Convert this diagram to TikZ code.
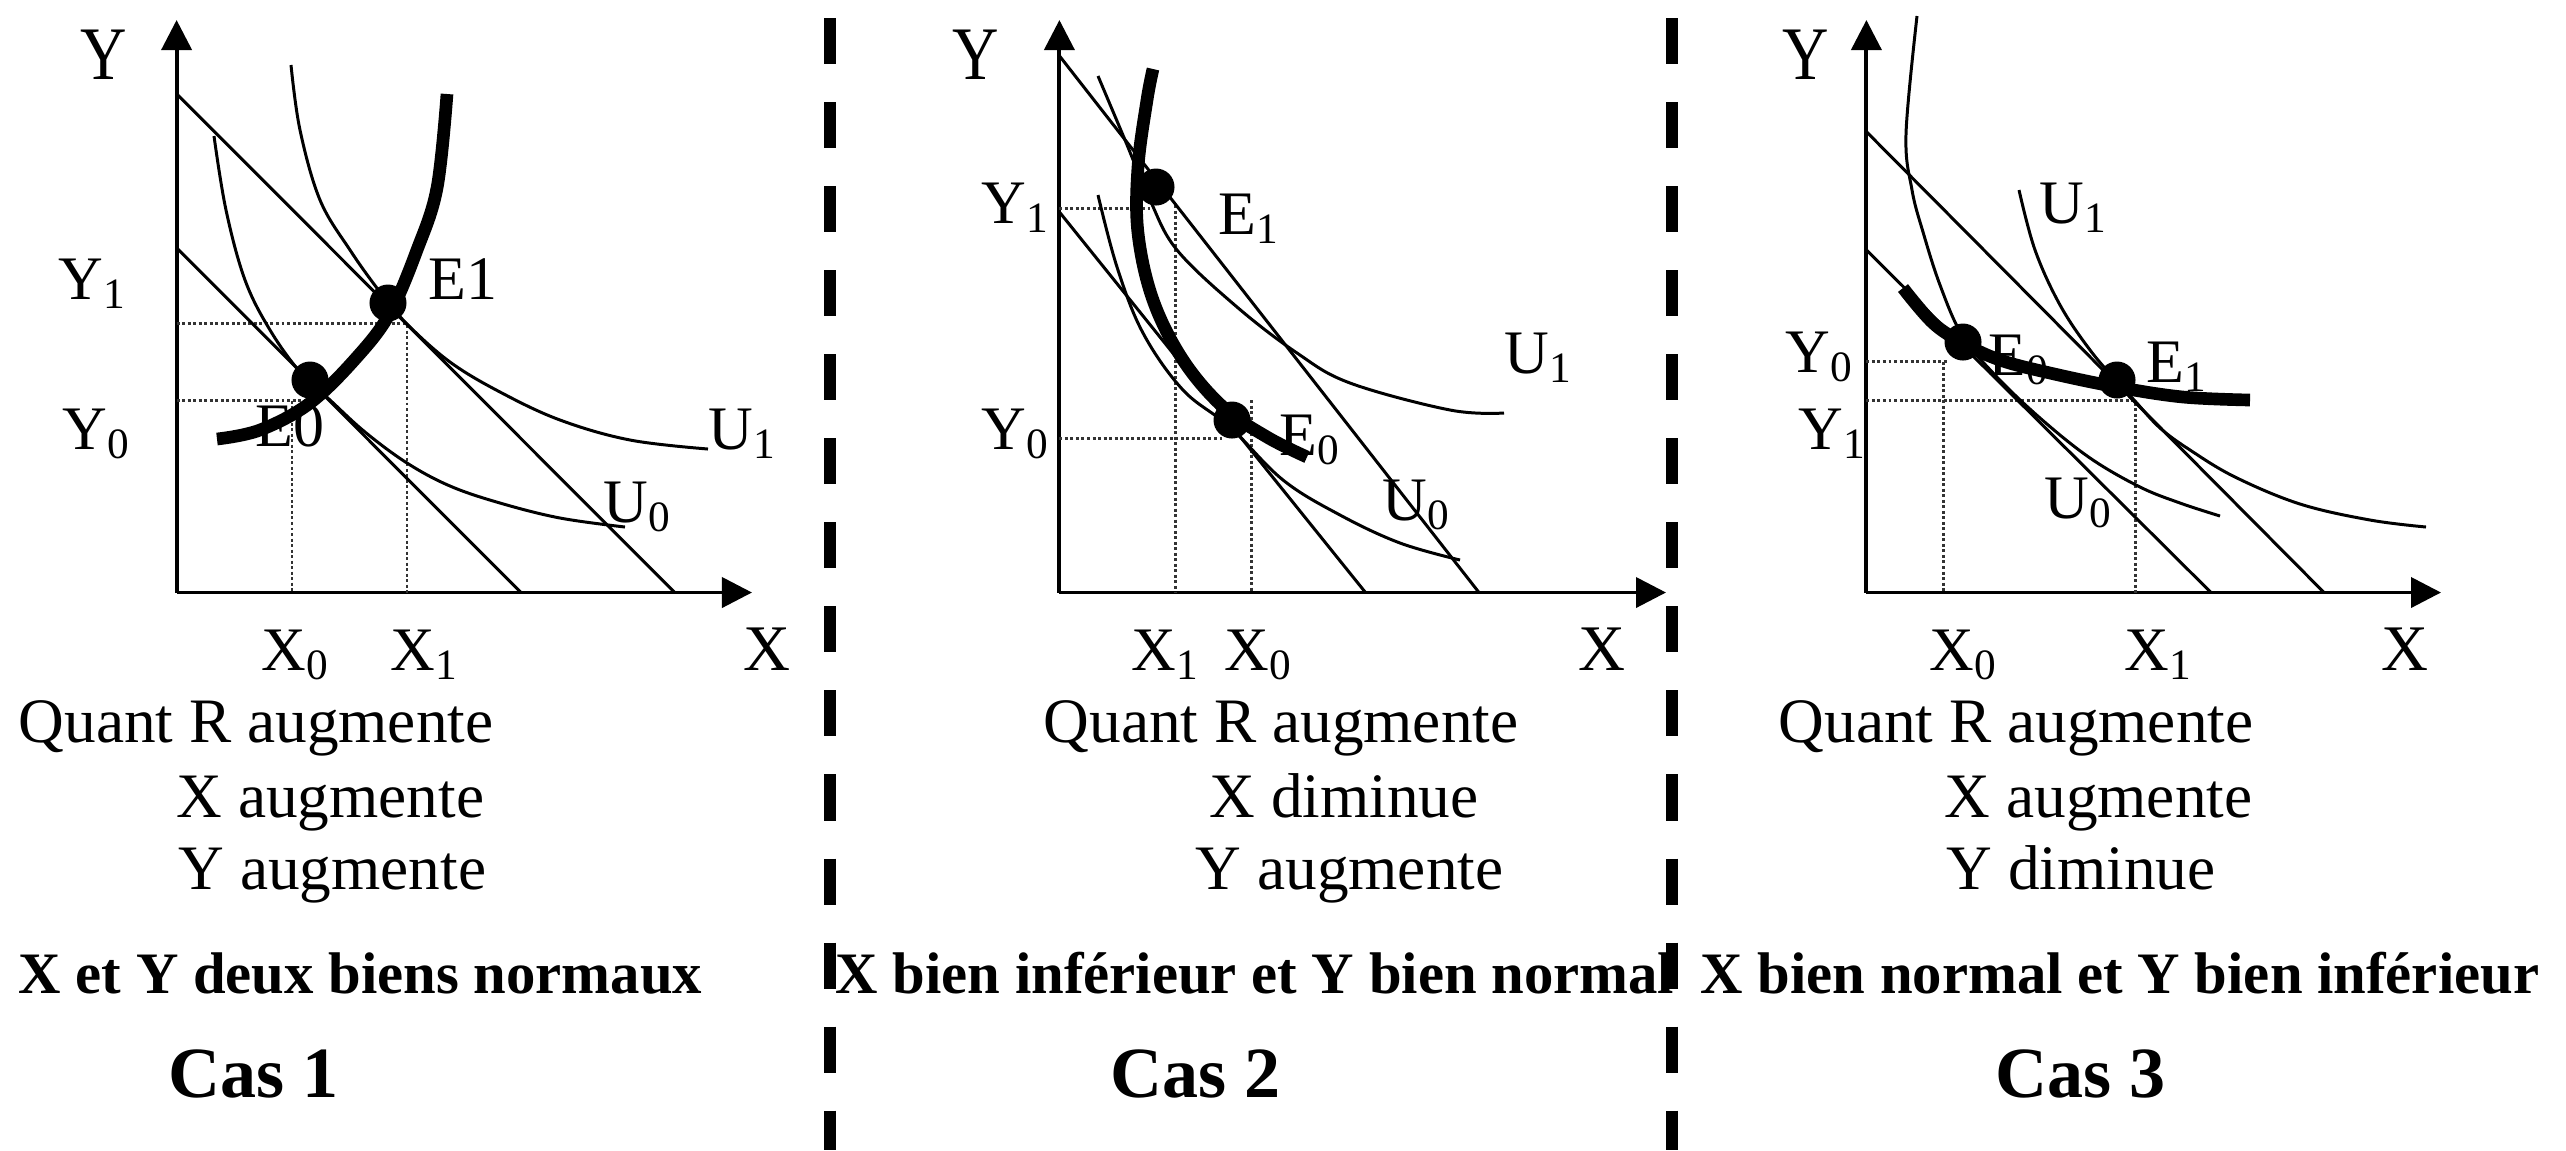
\documentclass[tikz,border=0pt]{standalone}
\usepackage{fontspec}
\setmainfont{Liberation Serif}
\newfontfamily\condserif[FakeStretch=0.85]{Liberation Serif}
\usetikzlibrary{arrows.meta}
\begin{document}
\begin{tikzpicture}[x=0.01cm,y=-0.01cm,
  axisline/.style={line width=1.1pt,-{Triangle[length=0.3cm,width=0.3cm]}},
  thinc/.style={line width=0.85pt},
  thickc/.style={line width=3.6pt},
  dotl/.style={line width=0.85pt,black!80,dash pattern=on 0.85pt off 0.72pt},
  eqdot/.style={circle,fill=black,inner sep=0pt,minimum size=0.37cm},
  sepline/.style={line width=0.12cm,dash pattern=on 0.46cm off 0.38cm},
  lbl/.style={anchor=base west,inner sep=0pt,font=\fontsize{17.6}{21}\selectfont},
  axy/.style={anchor=base west,inner sep=0pt,font=\condserif\fontsize{21.5}{25}\selectfont},
  axx/.style={anchor=base west,inner sep=0pt,font=\fontsize{18.5}{22}\selectfont},
  txt/.style={anchor=base west,inner sep=0pt,font=\fontsize{18}{21}\selectfont},
  bld/.style={anchor=base west,inner sep=0pt,font=\bfseries\fontsize{16.7}{20}\selectfont},
  cas/.style={anchor=base west,inner sep=0pt,font=\bfseries\fontsize{20.5}{24}\selectfont}]
\useasboundingbox[fill=white] (0,0) rectangle (2566,1150);

% separators
\coordinate (s1a) at (829.5,18); \coordinate (s1b) at (829.5,1150);
\coordinate (s2a) at (1672,18); \coordinate (s2b) at (1672,1150);
\draw[sepline] (s1a) -- (s1b);
\draw[sepline] (s2a) -- (s2b);

%================ Panel 1 ================
\node[axy] (p1Y) at (80,79) {Y};
\node[axx] (p1X) at (743,670) {X};
\node[lbl] (p1Y1) at (58,299) {Y\textsubscript{1}};
\node[lbl] (p1Y0) at (62,449) {Y\textsubscript{0}};
\node[lbl] (p1E1) at (428,299) {E1};
\node[lbl] (p1E0) at (255,446) {E0};
\node[lbl] (p1U1) at (708,449) {U\textsubscript{1}};
\node[lbl] (p1U0) at (603,522) {U\textsubscript{0}};
\node[lbl] (p1X0) at (261,670) {X\textsubscript{0}};
\node[lbl] (p1X1) at (390,670) {X\textsubscript{1}};

\coordinate (O1) at (176.6,592.5);
\draw[axisline] (O1) -- (176.6,20);
\draw[axisline] (O1) -- (752,592.5);
\draw[dotl] (176.6,323.7) -- (407,323.7) -- (407,592.5);
\draw[dotl] (176.6,400.5) -- (305,400.5);
\draw[dotl] (292,400.5) -- (292,592.5);
\draw[thinc] (176.6,93.75) -- (674.7,592.5);
\draw[thinc] (176.6,247.8) -- (521,592.5);
\draw[thinc] plot[smooth,tension=0.6] coordinates {(214,136) (226,210) (245,280) (270,330) (300,372) (330,400) (365,432) (407,463) (450,486) (500,503) (560,518) (625,527)};
\draw[thinc] plot[smooth,tension=0.6] coordinates {(291,65) (300,130) (320,200) (350,250) (380,292) (407,324) (450,362) (500,392) (560,420) (630,440) (708,449)};
\draw[thickc] plot[smooth,tension=0.6] coordinates {(217,439) (260,430) (310,403) (357,357) (390,313) (417,250) (437,188) (447,94)};
\node[eqdot] (p1D0) at (310,380) {};
\node[eqdot] (p1D1) at (388,303) {};

\node[txt] (p1t1) at (18,742) {Quant R augmente};
\node[txt] (p1t2) at (176,817) {X augmente};
\node[txt] (p1t3) at (178,889) {Y augmente};
\node[bld] (p1t4) at (18,993) {X et Y deux biens normaux};
\node[cas] (p1t5) at (168,1097) {Cas 1};

%================ Panel 2 ================
\node[axy] (p2Y) at (952,79) {Y};
\node[axx] (p2X) at (1578,670) {X};
\node[lbl] (p2Y1) at (981,223) {Y\textsubscript{1}};
\node[lbl] (p2Y0) at (981,449) {Y\textsubscript{0}};
\node[lbl] (p2E1) at (1218,234) {E\textsubscript{1}};
\node[lbl] (p2E0) at (1279,455) {E\textsubscript{0}};
\node[lbl] (p2U1) at (1504,373) {U\textsubscript{1}};
\node[lbl] (p2U0) at (1382,520) {U\textsubscript{0}};
\node[lbl] (p2X1) at (1131,670) {X\textsubscript{1}};
\node[lbl] (p2X0) at (1224,670) {X\textsubscript{0}};

\coordinate (O2) at (1059.4,592.5);
\draw[axisline] (O2) -- (1059.4,20);
\draw[axisline] (O2) -- (1666,592.5);
\draw[dotl] (1059.4,208) -- (1150,208);
\draw[dotl] (1175.5,205) -- (1175.5,592.5);
\draw[dotl] (1059.4,438.5) -- (1222,438.5);
\draw[dotl] (1251.5,400) -- (1251.5,592.5);
\draw[thinc] (1059.4,55.8) -- (1479,592.5);
\draw[thinc] (1059.4,212) -- (1365.5,592.5);
\draw[thinc] plot[smooth,tension=0.6] coordinates {(1098,76) (1125,140) (1150,200) (1177,250) (1237,307) (1297,353) (1350,383) (1450,410) (1504,413)};
\draw[thinc] plot[smooth,tension=0.6] coordinates {(1098,195) (1117,267) (1143,333) (1183,390) (1230,427) (1283,480) (1340,515) (1400,543) (1460,560)};
\draw[thickc] plot[smooth,tension=0.6] coordinates {(1153,69) (1147,100) (1138,167) (1138,233) (1153,300) (1183,360) (1223,407) (1267,437) (1307,457)};
\node[eqdot] (p2D1) at (1156,187) {};
\node[eqdot] (p2D0) at (1232,420) {};

\node[txt] (p2t1) at (1043,742) {Quant R augmente};
\node[txt] (p2t2) at (1209,817) {X diminue};
\node[txt] (p2t3) at (1195,889) {Y augmente};
\node[bld] (p2t4) at (835,993) {X bien inférieur et Y bien normal};
\node[cas] (p2t5) at (1110,1097) {Cas 2};

%================ Panel 3 ================
\node[axy] (p3Y) at (1782,79) {Y};
\node[axx] (p3X) at (2381,670) {X};
\node[lbl] (p3Y0) at (1785,372) {Y\textsubscript{0}};
\node[lbl] (p3Y1) at (1798,449) {Y\textsubscript{1}};
\node[lbl] (p3E0) at (1988,375) {E\textsubscript{0}};
\node[lbl] (p3E1) at (2146,382) {E\textsubscript{1}};
\node[lbl] (p3U1) at (2039,223) {U\textsubscript{1}};
\node[lbl] (p3U0) at (2044,518) {U\textsubscript{0}};
\node[lbl] (p3X0) at (1929,670) {X\textsubscript{0}};
\node[lbl] (p3X1) at (2124,670) {X\textsubscript{1}};

\coordinate (O3) at (1866.4,592.5);
\draw[axisline] (O3) -- (1866.4,20);
\draw[axisline] (O3) -- (2441,592.5);
\draw[dotl] (1866.4,361.7) -- (1947,361.7);
\draw[dotl] (1943.5,361.7) -- (1943.5,592.5);
\draw[dotl] (1866.4,400.7) -- (2135,400.7) -- (2135,592.5);
\draw[thinc] (1866.4,131.7) -- (2324,592.5);
\draw[thinc] (1866.4,250) -- (2211,592.5);
\draw[thinc] plot[smooth,tension=0.6] coordinates {(1917,16) (1906,134) (1912,190) (1923,232) (1940,285) (1962,335) (1995,375) (2040,418) (2090,458) (2140,487) (2180,503) (2220,516)};
\draw[thinc] plot[smooth,tension=0.6] coordinates {(2019,190) (2035,250) (2060,305) (2090,350) (2120,385) (2135,401) (2160,428) (2190,450) (2235,477) (2300,504) (2370,520) (2426,527)};
\draw[thickc] plot[smooth,tension=0.6] coordinates {(1903,288) (1933,323) (1963,343) (2000,360) (2050,373) (2117,387) (2183,397) (2250,400)};
\node[eqdot] (p3D0) at (1963,342) {};
\node[eqdot] (p3D1) at (2117,380) {};

\node[txt] (p3t1) at (1778,742) {Quant R augmente};
\node[txt] (p3t2) at (1944,817) {X augmente};
\node[txt] (p3t3) at (1946,889) {Y diminue};
\node[bld] (p3t4) at (1700,993) {X bien normal et Y bien inférieur};
\node[cas] (p3t5) at (1995,1097) {Cas 3};
\end{tikzpicture}
\end{document}
